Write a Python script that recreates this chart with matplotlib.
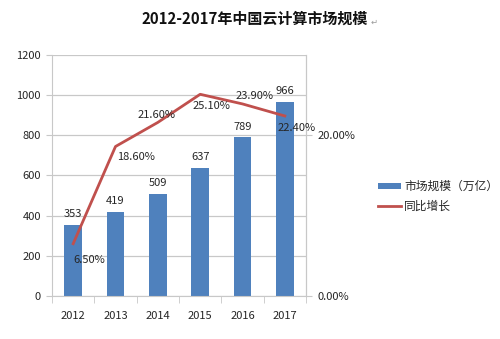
import matplotlib
matplotlib.use("Agg")
import matplotlib.pyplot as plt
from matplotlib.ticker import FuncFormatter, FixedLocator
import numpy as np

plt.rcParams['font.family'] = ['Noto Sans CJK SC', 'DejaVu Sans']

years = ['2012', '2013', '2014', '2015', '2016', '2017']
market = [353, 419, 509, 637, 789, 966]          # 市场规模（万亿）
growth = [0.065, 0.186, 0.216, 0.251, 0.239, 0.224]  # 同比增长

bar_color = '#4F81BD'
line_color = '#C0504D'
grid_color = '#C8C8C8'
text_color = '#262626'

fig = plt.figure(figsize=(5.0, 3.39), dpi=100)
ax = fig.add_axes([0.104, 0.127, 0.508, 0.711])
ax2 = ax.twinx()

x = np.arange(len(years))
bars = ax.bar(x, market, width=0.42, color=bar_color, zorder=2,
              label='市场规模（万亿）')
ax.set_xlim(-0.5, len(years) - 0.5)
ax.set_ylim(0, 1200)
ax.set_yticks(range(0, 1201, 200))
ax.yaxis.grid(True, color=grid_color, lw=0.9, zorder=0)
ax.set_axisbelow(True)

# category labels centred, ticks on the boundaries
ax.set_xticks(x)
ax.set_xticklabels(years)
ax.tick_params(axis='x', length=0, pad=11, labelsize=8, colors=text_color)
ax.xaxis.set_minor_locator(FixedLocator(np.arange(-0.5, len(years), 1.0)))
ax.tick_params(axis='x', which='minor', length=5, color=grid_color)
ax.tick_params(axis='y', length=4, color=grid_color, labelsize=8,
               colors=text_color, pad=4)
ax.spines['top'].set_visible(False)
for s in ['left', 'bottom', 'right']:
    ax.spines[s].set_color(grid_color)

for xi, v in zip(x, market):
    ax.annotate(str(v), (xi, v), xytext=(0, 4), textcoords='offset points',
                ha='center', va='bottom', fontsize=8, color=text_color)

line, = ax2.plot(x, growth, color=line_color, lw=2, zorder=3, label='同比增长')
ax2.set_ylim(0, 0.30)
ax2.set_yticks([0, 0.20])
ax2.yaxis.set_major_formatter(FuncFormatter(lambda v, p: f'{v * 100:.2f}%'))
ax2.tick_params(axis='y', length=4, color=grid_color, labelsize=8,
                colors=text_color, pad=4)
for s in ['top', 'left', 'bottom']:
    ax2.spines[s].set_visible(False)
ax2.spines['right'].set_color(grid_color)

# label placement (offsets in points, alignment)
label_pos = [((0, -8), 'left', 'top'),
             ((1, -4), 'left', 'top'),
             ((-1, 2), 'center', 'bottom'),
             ((8, -5), 'center', 'top'),
             ((9, 2), 'center', 'bottom'),
             ((-5, -5), 'left', 'top')]
for xi, g, (off, ha, va) in zip(x, growth, label_pos):
    ax2.annotate(f'{g * 100:.2f}%', (xi, g), xytext=off,
                 textcoords='offset points', ha=ha, va=va,
                 fontsize=8, color=text_color, zorder=4)

fig.text(0.51, 0.945, '2012-2017年中国云计算市场规模', ha='center', va='center',
         fontsize=10.8, fontweight='bold', color='#111111')
fig.text(0.741, 0.935, '↵', ha='left', va='center', fontsize=6,
         color='#9a9a9a', family=['DejaVu Sans'])

fig.legend([bars, line], ['市场规模（万亿）', '同比增长'],
           loc='upper left', bbox_to_anchor=(0.735, 0.50), frameon=False,
           fontsize=8.5, handlelength=1.9, handleheight=0.4,
           labelspacing=0.55, handletextpad=0.3, labelcolor=text_color)

fig.savefig('out.png', dpi=100, facecolor='white')
